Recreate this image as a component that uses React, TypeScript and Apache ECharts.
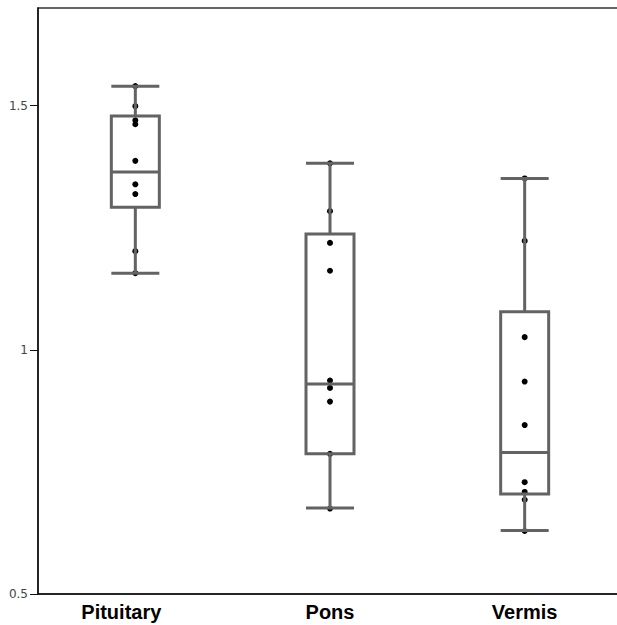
import React, { useEffect, useRef } from "react";
import * as echarts from "echarts";

const categories = ["Pituitary", "Pons", "Vermis"];
// [min, Q1, median, Q3, max]
const boxStats = [
  [1.157, 1.292, 1.364, 1.479, 1.54],
  [0.676, 0.787, 0.93, 1.237, 1.382],
  [0.63, 0.705, 0.79, 1.078, 1.351],
];
const pituitaryPoints = [1.54, 1.499, 1.47, 1.462, 1.387, 1.339, 1.319, 1.202, 1.157];
const ponsPoints = [1.382, 1.284, 1.219, 1.162, 0.937, 0.922, 0.894, 0.787, 0.675];
const vermisPoints = [1.351, 1.223, 1.026, 0.935, 0.846, 0.729, 0.709, 0.693, 0.629];
const yTicks = [0.5, 1, 1.5];

export default function App() {
  const ref = useRef<HTMLDivElement>(null);
  useEffect(() => {
    if (!ref.current) return;
    const chart = echarts.init(ref.current, undefined, { renderer: "svg" });
    const pointSets = [pituitaryPoints, ponsPoints, vermisPoints];
    const scatterData: number[][] = [];
    pointSets.forEach((arr, i) => arr.forEach((v) => scatterData.push([i, v])));
    chart.setOption({
      animation: false,
      backgroundColor: "#ffffff",
      grid: {
        left: 38,
        top: 8,
        width: 584,
        bottom: 31,
        outerBoundsMode: "none",
        containLabel: false,
        show: true,
        borderColor: "#333",
        borderWidth: 1.5,
        backgroundColor: "transparent",
      },
      xAxis: {
        type: "category",
        data: categories,
        boundaryGap: true,
        axisLine: { lineStyle: { color: "#111", width: 1.5 } },
        axisTick: { show: false },
        axisLabel: {
          margin: 8,
          color: "#000",
          fontFamily: "Liberation Sans, Arial, sans-serif",
          fontWeight: "bold",
          fontSize: 20,
          formatter: (v: string) => (v === "Pituitary" ? "{p|" + v + "}" : v),
          rich: {
            p: {
              fontFamily: "Liberation Sans, Arial, sans-serif",
              fontWeight: "bold",
              fontSize: 20,
              color: "#000",
              padding: [0, 28, 0, 0],
            },
          },
        },
        splitLine: { show: false },
      },
      yAxis: {
        type: "value",
        min: 0.5,
        max: 1.7,
        axisLine: { show: true, lineStyle: { color: "#111", width: 1.5 } },
        axisTick: {
          show: true,
          length: 8,
          customValues: yTicks,
          lineStyle: { color: "#111", width: 1 },
        },
        axisLabel: {
          customValues: yTicks,
          margin: 10,
          color: "#444",
          fontFamily: "DejaVu Sans, Verdana, sans-serif",
          fontSize: 12,
        },
        splitLine: { show: false },
      },
      series: [
        {
          type: "scatter",
          data: scatterData,
          symbol: "circle",
          symbolSize: 6,
          itemStyle: { color: "#000", opacity: 1 },
          z: 1,
        },
        {
          type: "boxplot",
          data: boxStats,
          boxWidth: [48, 48],
          itemStyle: {
            color: "rgba(0,0,0,0)",
            borderColor: "#636363",
            borderWidth: 3,
          },
          emphasis: { disabled: true },
          z: 2,
        },
      ],
    });
    return () => chart.dispose();
  }, []);
  return <div ref={ref} style={{ width: 617, height: 625, position: "absolute", left: 0, top: 0 }} />;
}
